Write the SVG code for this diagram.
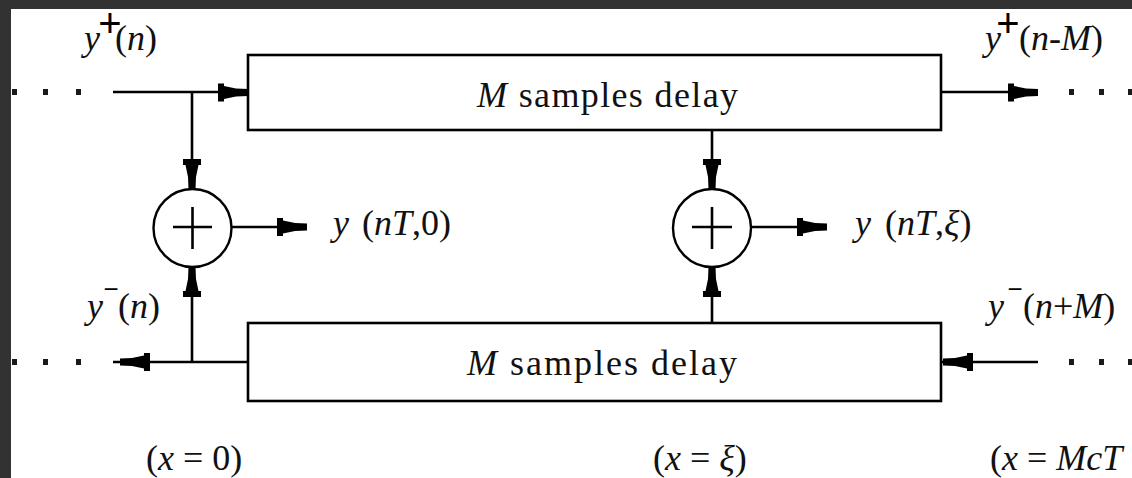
<svg xmlns="http://www.w3.org/2000/svg" xmlns:xlink="http://www.w3.org/1999/xlink" width="1132" height="478" viewBox="0 0 1132 478">
  <style>
    .box { fill: #ffffff; stroke: #000; stroke-width: 2.6; }
    .sum { fill: #ffffff; stroke: #000; stroke-width: 2.4; }
    .ln { fill: none; stroke: #000; stroke-width: 2.6; }
    .ah { fill: #000; }
    .dot { fill: #1a1a1a; }
    .lbl { font-family: "Liberation Serif", "Times New Roman", serif; font-size: 36px; fill: #111; }
    .it { font-style: italic; }
    .sym { font-family: "Liberation Sans", Arial, sans-serif; fill: #000; text-anchor: middle; }
  </style>
  <defs>
    <path id="ah" class="ah" d="M0,-3.5 L-12,-4 L-24,-6.5 V-9 H-30 V9 H-24 V6.5 L-12,4 L0,3.5 Z"/>
  </defs>
  <rect x="0" y="0" width="1132" height="478" fill="#ffffff"/>
  <rect x="0" y="0" width="1132" height="9" fill="#323232"/>
  <rect x="0" y="0" width="11" height="478" fill="#323232"/>

  <g id="connectors">
    <line class="ln" x1="113" y1="92" x2="246" y2="92"/>
    <use xlink:href="#ah" href="#ah" transform="translate(248,92.5)"/>
    <line class="ln" x1="192" y1="92" x2="192" y2="187"/>
    <use xlink:href="#ah" href="#ah" transform="translate(192,189) rotate(90)"/>
    <line class="ln" x1="941" y1="92" x2="1036" y2="92"/>
    <use xlink:href="#ah" href="#ah" transform="translate(1038,92.5)"/>
    <line class="ln" x1="712" y1="130" x2="712" y2="187"/>
    <use xlink:href="#ah" href="#ah" transform="translate(712,189) rotate(90)"/>
    <line class="ln" x1="231" y1="227" x2="305" y2="227"/>
    <use xlink:href="#ah" href="#ah" transform="translate(307,227)"/>
    <line class="ln" x1="751" y1="227" x2="825" y2="227"/>
    <use xlink:href="#ah" href="#ah" transform="translate(827,227)"/>
    <line class="ln" x1="192" y1="362" x2="192" y2="269"/>
    <use xlink:href="#ah" href="#ah" transform="translate(192,267) rotate(-90)"/>
    <line class="ln" x1="712" y1="323" x2="712" y2="269"/>
    <use xlink:href="#ah" href="#ah" transform="translate(712,267) rotate(-90)"/>
    <line class="ln" x1="113" y1="362" x2="248" y2="362"/>
    <use xlink:href="#ah" href="#ah" transform="translate(120,362) rotate(180)"/>
    <line class="ln" x1="941" y1="362" x2="1038" y2="362"/>
    <use xlink:href="#ah" href="#ah" transform="translate(943,362) rotate(180)"/>
  </g>

  <g id="dots">
    <rect class="dot" x="12" y="89" width="5" height="6"/>
    <rect class="dot" x="43" y="89" width="5" height="6"/>
    <rect class="dot" x="76" y="89" width="5" height="6"/>
    <rect class="dot" x="1069" y="89" width="5" height="6"/>
    <rect class="dot" x="1099" y="89" width="5" height="6"/>
    <rect class="dot" x="1128" y="89" width="4" height="6"/>
    <rect class="dot" x="12" y="359" width="5" height="6"/>
    <rect class="dot" x="43" y="359" width="5" height="6"/>
    <rect class="dot" x="76" y="359" width="5" height="6"/>
    <rect class="dot" x="1069" y="359" width="5" height="6"/>
    <rect class="dot" x="1099" y="359" width="5" height="6"/>
    <rect class="dot" x="1128" y="359" width="4" height="6"/>
  </g>

  <g id="delay-top">
    <rect class="box" x="248" y="55" width="693" height="75"/>
    <text class="lbl" x="477" y="107" textLength="261" lengthAdjust="spacing"><tspan class="it">M</tspan> samples delay</text>
  </g>
  <g id="delay-bottom">
    <rect class="box" x="248" y="323" width="693" height="78"/>
    <text class="lbl" x="467" y="375" textLength="270" lengthAdjust="spacing"><tspan class="it">M</tspan> samples delay</text>
  </g>

  <g id="sum-0">
    <circle class="sum" cx="192.5" cy="228" r="39"/>
    <line class="ln" x1="173" y1="227" x2="212" y2="227"/>
    <line class="ln" x1="192.5" y1="207" x2="192.5" y2="249"/>
  </g>
  <g id="sum-xi">
    <circle class="sum" cx="712" cy="228" r="39"/>
    <line class="ln" x1="692" y1="227" x2="732" y2="227"/>
    <line class="ln" x1="712" y1="207" x2="712" y2="249"/>
  </g>

  <g id="label-yplus-n">
    <text class="lbl" y="50"><tspan class="it" x="84">y</tspan><tspan x="115">(</tspan><tspan class="it">n</tspan>)</text>
    <text class="sym" x="110" y="37" font-size="40">+</text>
  </g>
  <g id="label-yplus-nM">
    <text class="lbl" y="50"><tspan class="it" x="985">y</tspan><tspan x="1019">(</tspan><tspan class="it">n</tspan>-<tspan class="it">M</tspan>)</text>
    <text class="sym" x="1008" y="37" font-size="40">+</text>
  </g>
  <g id="label-yminus-n">
    <text class="lbl" y="318"><tspan class="it" x="87">y</tspan><tspan x="118">(</tspan><tspan class="it">n</tspan>)</text>
    <text class="sym" x="111" y="298" font-size="26">−</text>
  </g>
  <g id="label-yminus-nM">
    <text class="lbl" y="318"><tspan class="it" x="988">y</tspan><tspan x="1023">(</tspan><tspan class="it">n</tspan>+<tspan class="it">M</tspan>)</text>
    <text class="sym" x="1015" y="298" font-size="26">−</text>
  </g>
  <g id="label-out-0">
    <text class="lbl" y="235"><tspan class="it" x="333">y</tspan><tspan x="362">(</tspan><tspan class="it">nT</tspan>,0)</text>
  </g>
  <g id="label-out-xi">
    <text class="lbl" y="235"><tspan class="it" x="855">y</tspan><tspan x="885">(</tspan><tspan class="it">nT</tspan>,<tspan class="it">ξ</tspan>)</text>
  </g>

  <g id="positions">
    <text class="lbl" x="146" y="470">(<tspan class="it">x</tspan> = 0)</text>
    <text class="lbl" x="653" y="470">(<tspan class="it">x</tspan> = <tspan class="it">ξ</tspan>)</text>
    <text class="lbl" x="990" y="470">(<tspan class="it">x</tspan> = <tspan class="it">McT</tspan></text>
  </g>
</svg>
